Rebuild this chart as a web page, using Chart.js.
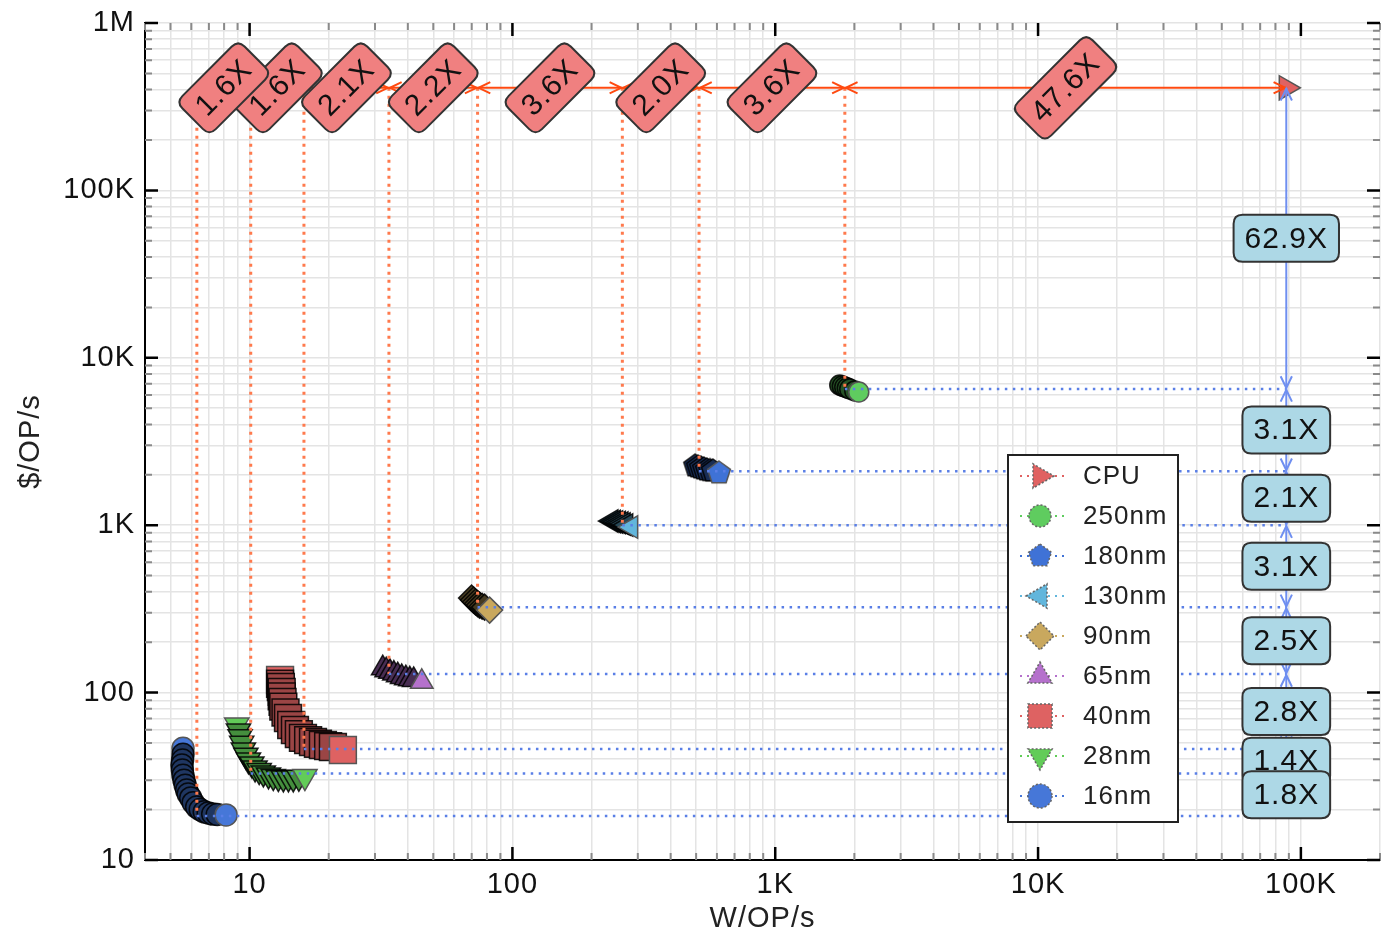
<!DOCTYPE html>
<html><head><meta charset="utf-8">
<script src="https://cdn.jsdelivr.net/npm/chart.js@4.4.1/dist/chart.umd.min.js"></script>
<style>html,body{margin:0;padding:0;background:#fff;overflow:hidden;}#wrap{width:1384px;height:936px;position:relative;}canvas{display:block;}</style>
</head><body><div id="wrap"><canvas id="c"></canvas></div>
<script>
// ---------- DATA ----------
const seriesNames = ['CPU','250nm','180nm','130nm','90nm','65nm','40nm','28nm','16nm'];
const cpuX = [88000];
const cpuY = [410000];
const n250X = [1760,1800,1839,1880,1921,2008,2079];
const n250Y = [6879,6780,6692,6600,6512,6336,6248];
const n180X = [496,509,522,536,550,565,580,611];
const n180Y = [2257,2226,2196,2166,2136,2120,2107,2050];
const n130X = [238,243,248,254,260,265,271,283];
const n130Y = [1059,1052,1045,1038,1031,1017,1003,975];
const n90X = [69.9,71.2,72.4,73.7,75.0,76.7,78.4,81.9];
const n90Y = [367,357,348,340,333,328,324,311];
const n65X = [32.1,33.1,34.2,35.4,36.6,37.9,39.3,40.7,42.1,45.2];
const n65Y = [140,136,133,130,127,124,122,120,119,116];
const n40X = [13.06,13.06,13.15,13.25,13.25,13.35,13.44,13.7,14.0,14.4,14.88,15.4,15.96,16.7,17.43,18.2,19.01,19.9,20.75,22.65];
const n40Y = [118.9,113,108,101,95,88,82.4,76,70.5,64,59.8,56.5,53.6,52,50.7,49.5,48.6,47.9,47.3,45.4];
const n28X = [8.94,9.07,9.20,9.33,9.47,9.68,9.90,10.2,10.49,10.88,11.28,11.8,12.31,12.87,13.44,14.05,14.66,15.4,16.24];
const n28Y = [64.0,59.0,54.5,49.8,45.4,42.3,39.6,37.5,35.5,34.2,33.1,32.2,31.5,31.1,30.9,30.9,30.9,31.2,31.5];
const n16X = [5.58,5.58,5.56,5.53,5.55,5.58,5.63,5.69,5.76,5.84,5.97,6.10,6.29,6.49,6.72,6.96,7.24,7.53,8.14];
const n16Y = [46.5,42.8,39.6,37.0,34.5,32.1,30.0,28.0,26.2,24.8,23.5,22.0,20.7,20.0,19.4,19.1,18.8,18.7,18.6];
// reference (optimal) points per series, CPU first
const optX = [88000,1840,513,262,73.7,33.9,16.1,10.1,6.3];
const optY = [410000,6518,2103,1001,323,129,46.1,32.9,18.3];
const xRatioLabels = ['47.6X','3.6X','2.0X','3.6X','2.2X','2.1X','1.6X','1.6X'];
const yRatioLabels = ['62.9X','3.1X','2.1X','3.1X','2.5X','2.8X','1.4X','1.8X'];
const xTickValues = [10,100,1000,10000,100000];
const xTickLabels = ['10','100','1K','10K','100K'];
const yTickValues = [10,100,1000,10000,100000,1000000];
const yTickLabels = ['10','100','1K','10K','100K','1M'];

// ---------- STYLE ----------
const trails = [[cpuX,cpuY],[n250X,n250Y],[n180X,n180Y],[n130X,n130Y],[n90X,n90Y],[n65X,n65Y],[n40X,n40Y],[n28X,n28Y],[n16X,n16Y]];
const seriesColors = ['#e06262','#5fcc5f','#3f72d6','#62b6dc','#c9a85e','#b571cc','#de6262','#62cc58','#4677d8'];
const darkness = [0.5,0.6,0.6,0.6,0.65,0.6,0.3,0.3,0.55];
const pStyles = ['triangle','circle','pentagon','triangle','rectRot','triangle','rect','triangle','circle'];
const pRot = [90,0,0,-90,0,0,0,180,0];
const pRad = [14,10,11,13,13,13,19,14,11];
const legRad = [14,11,12,14,14,14,17,14,12];
const brightFirst = ['40nm','28nm','16nm'];
const FONT = '"Liberation Sans", Arial, Helvetica, sans-serif';

function mix(hex,t){const n=parseInt(hex.slice(1),16);const r=(n>>16)&255,g=(n>>8)&255,b=n&255;
  return 'rgb('+Math.round(r*(1-t))+','+Math.round(g*(1-t))+','+Math.round(b*(1-t))+')';}
function polyCanvas(r,fill,stroke,dash){const s=Math.ceil(2*r+6);const c=document.createElement('canvas');c.width=s;c.height=s;
  const g=c.getContext('2d');g.beginPath();for(let k=0;k<5;k++){const a=-Math.PI/2+k*2*Math.PI/5;const X=s/2+r*Math.cos(a),Y=s/2+r*Math.sin(a);k?g.lineTo(X,Y):g.moveTo(X,Y);}
  g.closePath();g.fillStyle=fill;g.fill();g.lineWidth=1.5;if(dash)g.setLineDash([2,2]);g.strokeStyle=stroke;g.stroke();return c;}
const pentBright = polyCanvas(12,seriesColors[2],'#555',false);
const pentDark = polyCanvas(12,mix(seriesColors[2],darkness[2]),'rgba(0,0,0,0.85)',false);
const pentLeg = polyCanvas(12,seriesColors[2],'#666',true);

const datasets = seriesNames.map((name,i)=>{
  const xs=trails[i][0], ys=trails[i][1]; const last=xs.length-1; const col=seriesColors[i];
  const bright = k => k===last || (brightFirst.includes(name) && k===0);
  return {
    label:name,
    data: xs.map((v,k)=>({x:v,y:ys[k]})),
    showLine:false,
    pointStyle: pStyles[i]==='pentagon' ? (c=>bright(c.dataIndex)?pentBright:pentDark) : pStyles[i],
    pointRotation: pRot[i],
    pointRadius: pRad[i], pointHoverRadius: pRad[i],
    pointBackgroundColor: c=>bright(c.dataIndex)?col:mix(col,darkness[i]),
    pointBorderColor: c=>bright(c.dataIndex)?'#555':'rgba(0,0,0,0.85)',
    pointBorderWidth: 1.5
  };
});

function isMajor(v){const l=Math.log10(v);return Math.abs(l-Math.round(l))<1e-9;}
function logTicks(min,max){const out=[];for(let e=Math.floor(Math.log10(min));e<=Math.ceil(Math.log10(max));e++){for(let m=1;m<10;m++){const v=m*Math.pow(10,e);if(v>=min*0.9999&&v<=max*1.0001)out.push({value:v});}}return out;}
function lab(vals,labels,v){for(let k=0;k<vals.length;k++){if(Math.abs(vals[k]-v)/vals[k]<1e-6)return labels[k];}return '';}

function rrect(ctx,x,y,w,h,r){ctx.beginPath();ctx.moveTo(x+r,y);ctx.lineTo(x+w-r,y);ctx.quadraticCurveTo(x+w,y,x+w,y+r);ctx.lineTo(x+w,y+h-r);ctx.quadraticCurveTo(x+w,y+h,x+w-r,y+h);ctx.lineTo(x+r,y+h);ctx.quadraticCurveTo(x,y+h,x,y+h-r);ctx.lineTo(x,y+r);ctx.quadraticCurveTo(x,y,x+r,y);ctx.closePath();}
function labelBox(ctx,cx,cy,text,fill,angle){
  ctx.save();ctx.translate(cx,cy);ctx.rotate(angle);
  ctx.font='30px '+FONT;const tw=ctx.measureText(text).width;const w=tw+22,h=47;
  rrect(ctx,-w/2,-h/2,w,h,9);ctx.fillStyle=fill;ctx.fill();ctx.lineWidth=2;ctx.strokeStyle='#333';ctx.stroke();
  ctx.fillStyle='#111';ctx.textAlign='center';ctx.textBaseline='middle';ctx.fillText(text,0,1);
  ctx.restore();}
function chevron(ctx,tx,ty,dx,dy){const L=13,a=0.45;const ang=Math.atan2(dy,dx);
  ctx.beginPath();ctx.moveTo(tx-L*Math.cos(ang-a),ty-L*Math.sin(ang-a));ctx.lineTo(tx,ty);ctx.lineTo(tx-L*Math.cos(ang+a),ty-L*Math.sin(ang+a));ctx.stroke();}

const spacing = {id:'spacing',beforeDraw(chart){try{chart.ctx.letterSpacing='1px';}catch(e){}}};

const annot = {
  id:'annot',
  afterDatasetsDraw(chart){
    const ctx=chart.ctx, xs=chart.scales.x, ys=chart.scales.y;
    const px=v=>xs.getPixelForValue(v), py=v=>ys.getPixelForValue(v);
    const topY=py(optY[0]), colX=px(optX[0]);
    const n=optX.length;
    ctx.save();
    ctx.lineCap='butt';
    ctx.strokeStyle='#ff7a4d';ctx.lineWidth=3;ctx.setLineDash([3,5]);
    for(let i=1;i<n;i++){ctx.beginPath();ctx.moveTo(px(optX[i]),topY);ctx.lineTo(px(optX[i]),py(optY[i]));ctx.stroke();}
    ctx.strokeStyle='#5a7fe6';ctx.lineWidth=2.5;ctx.setLineDash([2.5,5.5]);
    for(let i=1;i<n;i++){ctx.beginPath();ctx.moveTo(px(optX[i]),py(optY[i]));ctx.lineTo(colX,py(optY[i]));ctx.stroke();}
    ctx.setLineDash([]);
    ctx.strokeStyle='#ff4a10';ctx.lineWidth=2;
    for(let i=0;i<n-1;i++){const a=px(optX[i+1]),b=px(optX[i]);
      ctx.beginPath();ctx.moveTo(a,topY);ctx.lineTo(b,topY);ctx.stroke();
      chevron(ctx,a+1,topY,-1,0);chevron(ctx,b-1,topY,1,0);}
    ctx.strokeStyle='#6f8ff0';ctx.lineWidth=2;
    for(let i=0;i<n-1;i++){const a=py(optY[i]),b=py(optY[i+1]);
      ctx.beginPath();ctx.moveTo(colX,a);ctx.lineTo(colX,b);ctx.stroke();
      chevron(ctx,colX,a+1,0,-1);chevron(ctx,colX,b-1,0,1);}
    for(let i=0;i<n-1;i++){const a=px(optX[i+1]),b=px(optX[i]);labelBox(ctx,(a+b)/2,topY,xRatioLabels[i],'#f08080',-Math.PI/4);}
    for(let i=0;i<n-1;i++){const a=py(optY[i]),b=py(optY[i+1]);labelBox(ctx,colX,(a+b)/2,yRatioLabels[i],'#add8e6',0);}
    // legend
    const lx=1008,ly=455,lw=170,lh=367;
    ctx.fillStyle='#fff';ctx.fillRect(lx,ly,lw,lh);ctx.strokeStyle='#222';ctx.lineWidth=2;ctx.strokeRect(lx,ly,lw,lh);
    for(let i=0;i<n;i++){const cy=ly+21+i*40, cx=lx+32;
      ctx.strokeStyle=seriesColors[i];ctx.lineWidth=2;ctx.setLineDash([2,5]);
      ctx.beginPath();ctx.moveTo(lx+12,cy);ctx.lineTo(lx+56,cy);ctx.stroke();
      ctx.setLineDash([2,2]);ctx.fillStyle=seriesColors[i];ctx.strokeStyle='#666';ctx.lineWidth=1.5;
      if(pStyles[i]==='pentagon'){ctx.setLineDash([]);ctx.drawImage(pentLeg,cx-pentLeg.width/2,cy-pentLeg.height/2);}
      else Chart.helpers.drawPoint(ctx,{pointStyle:pStyles[i],rotation:pRot[i],radius:legRad[i],borderWidth:1.5},cx,cy);
      ctx.setLineDash([]);
      ctx.fillStyle='#222';ctx.font='26px '+FONT;ctx.textAlign='left';ctx.textBaseline='middle';
      ctx.fillText(seriesNames[i],lx+75,cy+1);}
    ctx.restore();
  },
  afterDraw(chart){
    const ctx=chart.ctx, xs=chart.scales.x, ys=chart.scales.y, A=chart.chartArea;
    ctx.save();ctx.setLineDash([]);
    for(const t of xs.ticks){const X=xs.getPixelForValue(t.value);const M=isMajor(t.value);const L=M?13:7;
      ctx.strokeStyle=M?'#000':'#8a8a8a';ctx.lineWidth=M?2.5:2;
      ctx.beginPath();ctx.moveTo(X,A.bottom);ctx.lineTo(X,A.bottom-L);ctx.moveTo(X,A.top);ctx.lineTo(X,A.top+L);ctx.stroke();}
    for(const t of ys.ticks){const Y=ys.getPixelForValue(t.value);const M=isMajor(t.value);const L=M?13:7;
      ctx.strokeStyle=M?'#000':'#8a8a8a';ctx.lineWidth=M?2.5:2;
      ctx.beginPath();ctx.moveTo(A.left,Y);ctx.lineTo(A.left+L,Y);ctx.moveTo(A.right,Y);ctx.lineTo(A.right-L,Y);ctx.stroke();}
    ctx.restore();
  }
};

const gridOpts = {color:'#e4e4e4',lineWidth:1.5,drawTicks:false};
new Chart(document.getElementById('c'),{
  type:'scatter',
  data:{datasets},
  options:{
    responsive:true,maintainAspectRatio:false,animation:false,events:[],
    layout:{autoPadding:false,padding:{top:23,right:4,left:0,bottom:0}},
    plugins:{legend:{display:false},tooltip:{enabled:false}},
    scales:{
      x:{type:'logarithmic',min:4,max:200000,
        afterBuildTicks:s=>{s.ticks=logTicks(4,200000);},
        afterFit:s=>{s.height=76;s.paddingLeft=0;s.paddingRight=0;},
        grid:gridOpts,border:{display:true,color:'#000',width:2},
        ticks:{autoSkip:false,maxRotation:0,padding:8,color:'#111',font:{family:FONT,size:29},callback:v=>lab(xTickValues,xTickLabels,v)},
        title:{display:true,text:'W/OP/s',color:'#222',font:{family:FONT,size:29},padding:{top:0,bottom:0}}},
      y:{type:'logarithmic',min:10,max:1000000,
        afterBuildTicks:s=>{s.ticks=logTicks(10,1000000);},
        afterFit:s=>{s.width=145;s.paddingTop=0;s.paddingBottom=0;},
        grid:gridOpts,border:{display:true,color:'#000',width:2},
        ticks:{autoSkip:false,padding:10,color:'#111',font:{family:FONT,size:29},callback:v=>lab(yTickValues,yTickLabels,v)},
        title:{display:true,text:'$/OP/s',color:'#222',font:{family:FONT,size:29},padding:{top:14,bottom:0}}}
    }
  },
  plugins:[spacing,annot]
});
</script></body></html>
